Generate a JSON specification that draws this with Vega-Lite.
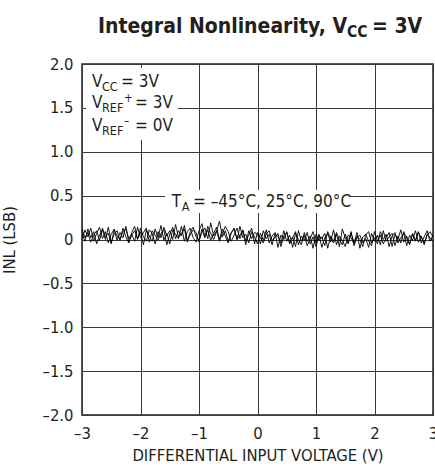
{
  "$schema": "https://vega.github.io/schema/vega-lite/v6.json",
  "width": 351,
  "height": 351,
  "autosize": {"type": "none"},
  "padding": {"left": 82, "top": 64, "right": 2, "bottom": 55},
  "background": "white",
  "config": {
    "font": "Liberation Sans Narrow, DejaVu Sans Condensed, Liberation Sans",
    "view": {"stroke": "#231f20", "strokeWidth": 1.5},
    "axis": {
      "grid": true, "gridColor": "#3a3a3a", "gridWidth": 1, "gridOpacity": 1,
      "ticks": false, "domain": false,
      "labelFont": "Liberation Sans Narrow, DejaVu Sans Condensed, Liberation Sans",
      "titleFont": "Liberation Sans Narrow, DejaVu Sans Condensed, Liberation Sans",
      "labelFontSize": 16.5, "titleFontSize": 16.5, "labelColor": "#231f20", "titleColor": "#231f20",
      "titleFontWeight": "normal"
    },
    "text": {"font": "Liberation Sans Narrow, DejaVu Sans Condensed, Liberation Sans", "color": "#231f20", "baseline": "alphabetic"}
  },
  "datasets": {
    "one": [{}],
    "inl": [
    {"x":-3.00,"a":0.07,"b":0.00,"c":0.12},{"x":-2.95,"a":-0.02,"b":0.11,"c":0.02},{"x":-2.90,"a":0.12,"b":0.03,"c":0.08},{"x":-2.85,"a":0.02,"b":0.13,"c":-0.03},{"x":-2.80,"a":0.09,"b":-0.02,"c":0.05},
    {"x":-2.75,"a":-0.05,"b":0.07,"c":0.10},{"x":-2.70,"a":0.05,"b":0.14,"c":-0.01},{"x":-2.65,"a":0.11,"b":0.01,"c":0.13},{"x":-2.60,"a":0.00,"b":0.09,"c":0.03},{"x":-2.55,"a":0.14,"b":-0.04,"c":0.07},
    {"x":-2.50,"a":-0.03,"b":0.06,"c":-0.05},{"x":-2.45,"a":0.06,"b":0.12,"c":0.11},{"x":-2.40,"a":0.10,"b":-0.01,"c":0.04},{"x":-2.35,"a":-0.01,"b":0.08,"c":0.00},{"x":-2.30,"a":0.13,"b":0.02,"c":0.09},
    {"x":-2.25,"a":0.03,"b":0.15,"c":0.12},{"x":-2.20,"a":-0.04,"b":-0.03,"c":0.01},{"x":-2.15,"a":0.08,"b":0.05,"c":0.06},{"x":-2.10,"a":0.15,"b":0.10,"c":-0.02},{"x":-2.05,"a":0.01,"b":0.00,"c":0.14},
    {"x":-2.00,"a":0.09,"b":0.13,"c":0.02},{"x":-1.95,"a":-0.06,"b":0.03,"c":0.08},{"x":-1.90,"a":0.11,"b":-0.02,"c":0.13},{"x":-1.85,"a":0.04,"b":0.11,"c":-0.03},{"x":-1.80,"a":-0.02,"b":0.07,"c":0.10},
    {"x":-1.75,"a":0.12,"b":-0.05,"c":0.05},{"x":-1.70,"a":0.02,"b":0.09,"c":-0.01},{"x":-1.65,"a":0.16,"b":0.02,"c":0.07},{"x":-1.60,"a":-0.01,"b":0.14,"c":0.11},{"x":-1.55,"a":0.07,"b":0.04,"c":-0.06},
    {"x":-1.50,"a":-0.05,"b":0.10,"c":0.06},{"x":-1.45,"a":0.11,"b":0.00,"c":0.14},{"x":-1.40,"a":0.06,"b":0.17,"c":0.01},{"x":-1.35,"a":0.01,"b":0.02,"c":0.10},{"x":-1.30,"a":0.15,"b":0.07,"c":0.04},
    {"x":-1.25,"a":-0.02,"b":0.12,"c":0.16},{"x":-1.20,"a":0.09,"b":-0.03,"c":-0.01},{"x":-1.15,"a":0.13,"b":0.09,"c":0.05},{"x":-1.10,"a":0.02,"b":0.14,"c":0.11},{"x":-1.05,"a":-0.03,"b":0.03,"c":0.08},
    {"x":-1.00,"a":0.10,"b":-0.01,"c":-0.03},{"x":-0.95,"a":0.18,"b":0.08,"c":0.12},{"x":-0.90,"a":0.03,"b":0.13,"c":0.02},{"x":-0.85,"a":0.11,"b":0.01,"c":0.15},{"x":-0.80,"a":-0.01,"b":0.19,"c":0.07},
    {"x":-0.75,"a":0.07,"b":0.04,"c":0.00},{"x":-0.70,"a":0.14,"b":0.10,"c":0.09},{"x":-0.65,"a":0.00,"b":-0.02,"c":0.21},{"x":-0.60,"a":0.12,"b":0.07,"c":0.03},{"x":-0.55,"a":0.04,"b":0.15,"c":0.10},
    {"x":-0.50,"a":-0.04,"b":0.09,"c":-0.02},{"x":-0.45,"a":0.08,"b":-0.02,"c":0.07},{"x":-0.40,"a":0.12,"b":0.05,"c":0.13},{"x":-0.35,"a":0.00,"b":0.13,"c":0.00},{"x":-0.30,"a":0.15,"b":0.01,"c":0.05},
    {"x":-0.25,"a":0.02,"b":0.10,"c":0.11},{"x":-0.20,"a":0.06,"b":-0.06,"c":-0.02},{"x":-0.15,"a":-0.04,"b":0.10,"c":0.05},{"x":-0.10,"a":0.09,"b":0.01,"c":0.13},{"x":-0.05,"a":0.03,"b":0.08,"c":-0.05},
    {"x":0.00,"a":-0.05,"b":0.06,"c":0.08},{"x":0.05,"a":0.07,"b":-0.05,"c":0.02},{"x":0.10,"a":-0.01,"b":0.10,"c":-0.04},{"x":0.15,"a":0.11,"b":0.01,"c":0.06},{"x":0.20,"a":-0.04,"b":0.06,"c":0.10},
    {"x":0.25,"a":0.04,"b":-0.06,"c":-0.01},{"x":0.30,"a":0.08,"b":0.07,"c":0.02},{"x":0.35,"a":-0.09,"b":0.03,"c":0.07},{"x":0.40,"a":0.05,"b":-0.04,"c":-0.08},{"x":0.45,"a":0.00,"b":0.10,"c":0.04},
    {"x":0.50,"a":0.09,"b":-0.02,"c":0.08},{"x":0.55,"a":-0.05,"b":0.05,"c":-0.04},{"x":0.60,"a":0.03,"b":-0.09,"c":0.02},{"x":0.65,"a":-0.08,"b":0.07,"c":0.09},{"x":0.70,"a":0.10,"b":0.00,"c":-0.06},
    {"x":0.75,"a":-0.02,"b":-0.06,"c":0.04},{"x":0.80,"a":0.05,"b":0.08,"c":-0.01},{"x":0.85,"a":-0.07,"b":-0.02,"c":0.08},{"x":0.90,"a":0.01,"b":0.04,"c":-0.05},{"x":0.95,"a":0.09,"b":-0.10,"c":0.03},
    {"x":1.00,"a":-0.04,"b":0.06,"c":-0.08},{"x":1.05,"a":0.06,"b":-0.01,"c":0.05},{"x":1.10,"a":-0.09,"b":0.03,"c":0.01},{"x":1.15,"a":0.02,"b":-0.07,"c":0.07},{"x":1.20,"a":0.07,"b":0.09,"c":-0.10},
    {"x":1.25,"a":-0.03,"b":0.01,"c":0.04},{"x":1.30,"a":0.11,"b":-0.04,"c":-0.02},{"x":1.35,"a":-0.06,"b":0.06,"c":0.08},{"x":1.40,"a":0.04,"b":-0.08,"c":0.00},{"x":1.45,"a":-0.01,"b":0.12,"c":-0.06},
    {"x":1.50,"a":-0.08,"b":0.02,"c":0.06},{"x":1.55,"a":0.05,"b":-0.05,"c":-0.03},{"x":1.60,"a":0.02,"b":0.07,"c":0.09},{"x":1.65,"a":-0.05,"b":-0.03,"c":-0.07},{"x":1.70,"a":0.08,"b":0.04,"c":0.02},
    {"x":1.75,"a":-0.10,"b":0.00,"c":0.05},{"x":1.80,"a":0.03,"b":-0.08,"c":-0.04},{"x":1.85,"a":0.06,"b":0.05,"c":0.01},{"x":1.90,"a":-0.02,"b":0.09,"c":-0.09},{"x":1.95,"a":-0.07,"b":-0.04,"c":0.07},
    {"x":2.00,"a":0.09,"b":0.02,"c":-0.02},{"x":2.05,"a":-0.02,"b":-0.05,"c":0.05},{"x":2.10,"a":0.05,"b":0.09,"c":-0.06},{"x":2.15,"a":-0.05,"b":0.00,"c":0.10},{"x":2.20,"a":0.02,"b":0.06,"c":-0.02},
    {"x":2.25,"a":0.08,"b":-0.08,"c":0.03},{"x":2.30,"a":-0.08,"b":0.04,"c":0.07},{"x":2.35,"a":0.06,"b":0.08,"c":-0.07},{"x":2.40,"a":0.00,"b":-0.04,"c":0.04},{"x":2.45,"a":0.11,"b":0.02,"c":-0.04},
    {"x":2.50,"a":-0.03,"b":0.07,"c":0.09},{"x":2.55,"a":0.04,"b":-0.07,"c":0.01},{"x":2.60,"a":-0.06,"b":0.05,"c":-0.05},{"x":2.65,"a":0.07,"b":-0.01,"c":0.06},{"x":2.70,"a":-0.01,"b":0.10,"c":-0.02},
    {"x":2.75,"a":0.09,"b":-0.03,"c":0.08},{"x":2.80,"a":-0.04,"b":0.04,"c":0.02},{"x":2.85,"a":0.03,"b":-0.06,"c":-0.04},{"x":2.90,"a":0.10,"b":0.06,"c":0.05},{"x":2.95,"a":-0.02,"b":0.02,"c":0.09},
    {"x":3.00,"a":0.05,"b":-0.02,"c":0.03}
    ]
  },
  "data": {"name": "one"},
  "layer": [
    {
      "mark": {"type": "rect", "color": "white"},
      "encoding": {
        "x": {"datum": -2.93, "type": "quantitative"}, "x2": {"datum": -1.36},
        "y": {"datum": 1.134, "type": "quantitative"}, "y2": {"datum": 1.955}
      }
    },
    {
      "mark": {"type": "rect", "color": "white"},
      "encoding": {
        "x": {"datum": -1.58, "type": "quantitative"}, "x2": {"datum": 1.56},
        "y": {"datum": 0.302, "type": "quantitative"}, "y2": {"datum": 0.564}
      }
    },
    {
      "data": {"name": "inl"},
      "transform": [{"fold": ["a", "b", "c"], "as": ["series", "inl"]}],
      "mark": {"type": "line", "color": "#000000", "strokeWidth": 0.9, "clip": true},
      "encoding": {
        "x": {"field": "x", "type": "quantitative",
              "scale": {"domain": [-3, 3], "nice": false, "zero": false},
              "axis": {"values": [-3, -2, -1, 0, 1, 2, 3], "title": "DIFFERENTIAL INPUT VOLTAGE (V)",
                       "labelExpr": "(datum.value < 0 ? '–' : '') + format(abs(datum.value), 'd')",
                       "labelPadding": 10, "titlePadding": 6, "labelFlush": false}},
        "y": {"field": "inl", "type": "quantitative",
              "scale": {"domain": [-2, 2], "nice": false, "zero": false},
              "axis": {"values": [-2, -1.5, -1, -0.5, 0, 0.5, 1, 1.5, 2], "title": "INL (LSB)",
                       "labelExpr": "datum.value == 0 ? '0' : (datum.value < 0 ? '–' : '') + format(abs(datum.value), '.1f')",
                       "labelPadding": 9, "titlePadding": 24, "labelFlush": false}},
        "detail": {"field": "series"}
      }
    },
    {"mark": {"type": "text", "align": "right", "fontSize": 21, "fontWeight": "bold"},
     "encoding": {"x": {"datum": 1.53, "type": "quantitative"}, "y": {"datum": 2.353, "type": "quantitative"}, "text": {"value": "Integral Nonlinearity, V"}}},
    {"mark": {"type": "text", "align": "left", "fontSize": 15.5, "fontWeight": "bold", "dy": 4},
     "encoding": {"x": {"datum": 1.53, "type": "quantitative"}, "y": {"datum": 2.353, "type": "quantitative"}, "text": {"value": "CC"}}},
    {"mark": {"type": "text", "align": "left", "fontSize": 21, "fontWeight": "bold"},
     "encoding": {"x": {"datum": 1.957, "type": "quantitative"}, "y": {"datum": 2.353, "type": "quantitative"}, "text": {"value": "= 3V"}}},

    {"mark": {"type": "text", "align": "left", "fontSize": 17},
     "encoding": {"x": {"datum": -2.829, "type": "quantitative"}, "y": {"datum": 1.734, "type": "quantitative"}, "text": {"value": "V"}}},
    {"mark": {"type": "text", "align": "left", "fontSize": 12.5, "dy": 4},
     "encoding": {"x": {"datum": -2.658, "type": "quantitative"}, "y": {"datum": 1.734, "type": "quantitative"}, "text": {"value": "CC"}}},
    {"mark": {"type": "text", "align": "left", "fontSize": 17},
     "encoding": {"x": {"datum": -2.333, "type": "quantitative"}, "y": {"datum": 1.734, "type": "quantitative"}, "text": {"value": "= 3V"}}},

    {"mark": {"type": "text", "align": "left", "fontSize": 17},
     "encoding": {"x": {"datum": -2.829, "type": "quantitative"}, "y": {"datum": 1.499, "type": "quantitative"}, "text": {"value": "V"}}},
    {"mark": {"type": "text", "align": "left", "fontSize": 12.5, "dy": 4},
     "encoding": {"x": {"datum": -2.658, "type": "quantitative"}, "y": {"datum": 1.499, "type": "quantitative"}, "text": {"value": "REF"}}},
    {"mark": {"type": "text", "align": "left", "fontSize": 11.5, "dy": -6},
     "encoding": {"x": {"datum": -2.282, "type": "quantitative"}, "y": {"datum": 1.499, "type": "quantitative"}, "text": {"value": "+"}}},
    {"mark": {"type": "text", "align": "left", "fontSize": 17},
     "encoding": {"x": {"datum": -2.094, "type": "quantitative"}, "y": {"datum": 1.499, "type": "quantitative"}, "text": {"value": "= 3V"}}},

    {"mark": {"type": "text", "align": "left", "fontSize": 17},
     "encoding": {"x": {"datum": -2.829, "type": "quantitative"}, "y": {"datum": 1.233, "type": "quantitative"}, "text": {"value": "V"}}},
    {"mark": {"type": "text", "align": "left", "fontSize": 12.5, "dy": 4},
     "encoding": {"x": {"datum": -2.658, "type": "quantitative"}, "y": {"datum": 1.233, "type": "quantitative"}, "text": {"value": "REF"}}},
    {"mark": {"type": "text", "align": "left", "fontSize": 11.5, "dy": -6},
     "encoding": {"x": {"datum": -2.282, "type": "quantitative"}, "y": {"datum": 1.233, "type": "quantitative"}, "text": {"value": "–"}}},
    {"mark": {"type": "text", "align": "left", "fontSize": 17},
     "encoding": {"x": {"datum": -2.094, "type": "quantitative"}, "y": {"datum": 1.233, "type": "quantitative"}, "text": {"value": "= 0V"}}},

    {"mark": {"type": "text", "align": "left", "fontSize": 17},
     "encoding": {"x": {"datum": -1.467, "type": "quantitative"}, "y": {"datum": 0.374, "type": "quantitative"}, "text": {"value": "T"}}},
    {"mark": {"type": "text", "align": "left", "fontSize": 12.5, "dy": 4},
     "encoding": {"x": {"datum": -1.296, "type": "quantitative"}, "y": {"datum": 0.374, "type": "quantitative"}, "text": {"value": "A"}}},
    {"mark": {"type": "text", "align": "left", "fontSize": 17},
     "encoding": {"x": {"datum": -1.103, "type": "quantitative"}, "y": {"datum": 0.374, "type": "quantitative"}, "text": {"value": "= –45°C, 25°C, 90°C"}}}
  ]
}
